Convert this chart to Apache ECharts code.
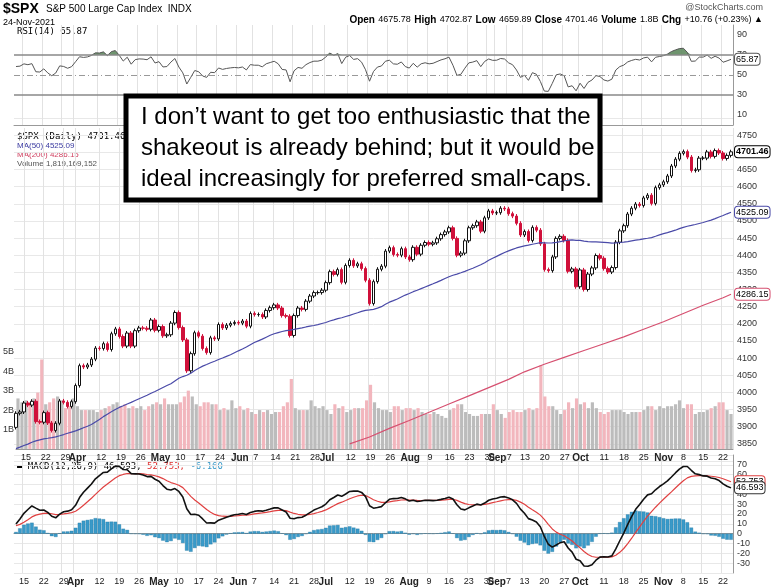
<!DOCTYPE html>
<html><head><meta charset="utf-8">
<script src="https://cdn.jsdelivr.net/npm/echarts@6/dist/echarts.min.js"></script>
<style>html,body{margin:0;padding:0;background:#fff}#c{width:779px;height:587px}</style>
</head><body><div id="c"></div>
<script>
// warm-up closes (Dec 2020 - Mar 10 2021) used only for MA50 / RSI / MACD
const warmupCloses = [3662,3669,3666,3699,3692,3702,3672,3668,3663,3647,3694,3701,3722,3709,3694,3687,3690,3703,3735,3727,3732,3756,3701,3726,3748,3803,3825,3799,3801,3809,3795,3768,3799,3851,3853,3841,3855,3849,3750,3787,3714,3774,3826,3830,3872,3887,3915,3911,3910,3917,3934,3932,3931,3913,3906,3876,3881,3925,3829,3811,3901,3870,3820,3768,3842,3821,3875,3898];
const closes = [
3939,3943,3969,3963,3974,3915,3913,3941,3911,3889,3910,3975,3971,3959,3973,
4020,4078,4074,4080,4097,4129,4128,4142,4125,4171,4185,4163,4135,4173,4135,4180,4188,4187,4184,4211,4181,
4192,4165,4168,4202,4233,4189,4153,4063,4113,4174,4164,4128,4116,4159,4156,4198,4188,4196,4201,4204,
4202,4208,4193,4230,4227,4227,4220,4239,4247,4255,4246,4224,4222,4166,4224,4246,4242,4266,4281,4291,4291,4298,
4320,4352,4344,4358,4321,4370,4385,4369,4375,4361,4327,4259,4323,4359,4368,4412,4422,4402,4400,4419,4395,
4387,4423,4403,4429,4437,4432,4436,4448,4460,4468,4480,4449,4400,4406,4442,4480,4486,4497,4470,4509,4529,4523,
4524,4537,4535,4521,4514,4493,4459,4469,4443,4481,4473,4433,4358,4355,4395,4449,4455,4443,4353,4360,4308,
4357,4300,4345,4363,4399,4391,4361,4351,4364,4438,4471,4486,4520,4537,4549,4545,4567,4575,4551,4597,4605,
4614,4631,4660,4680,4697,4702,4686,4647,4649,4683,4683,4701,4688,4705,4698,4682,4691,4701.46];
const volumes = [
2.6,2.4,2.5,2.4,2.6,2.9,4.6,2.3,2.4,2.6,2.7,2.5,2.1,2.2,2.6,
2.2,2.0,2.0,2.0,2.0,1.9,2.0,2.1,2.2,2.3,2.4,2.2,2.3,2.1,2.2,2.1,2.2,2.0,2.2,2.3,2.4,
2.3,2.6,2.3,2.3,2.3,2.4,2.7,3.0,2.7,2.3,2.2,2.4,2.4,2.3,2.3,2.0,2.1,2.0,2.5,2.1,
2.2,2.0,2.1,1.9,1.8,2.0,1.9,2.0,1.8,1.9,1.9,2.2,2.4,3.6,2.1,2.0,2.0,2.0,2.5,2.2,2.1,2.2,
2.0,1.8,2.3,2.1,2.2,1.9,2.0,2.1,2.1,2.1,2.5,3.3,2.4,2.1,2.0,2.0,1.9,2.2,2.2,2.0,2.1,
2.1,2.0,2.1,1.9,1.8,1.8,1.9,1.8,1.7,1.6,2.0,2.1,2.3,2.3,1.9,1.8,1.7,1.7,1.8,1.8,1.8,2.3,
2.0,1.8,1.6,1.9,2.0,1.9,1.9,2.0,2.1,2.0,2.1,4.3,2.7,2.2,2.2,2.0,1.8,2.0,2.4,2.1,2.6,
2.3,2.4,2.1,2.4,2.1,1.9,1.8,1.9,2.0,2.0,2.0,1.9,1.8,1.9,1.9,1.9,2.0,2.2,2.2,2.0,2.2,
2.1,2.2,2.2,2.3,2.5,2.1,2.3,2.3,1.8,1.9,1.9,2.0,2.1,2.2,2.4,2.4,2.0,1.8];
// MA(200) at weekly dates
const ma200Dates = ['2021-07-12','2021-07-19','2021-07-26','2021-08-02','2021-08-09','2021-08-16','2021-08-23','2021-08-30','2021-09-07','2021-09-13','2021-09-20','2021-09-27','2021-10-04','2021-10-11','2021-10-18','2021-10-25','2021-11-01','2021-11-08','2021-11-15','2021-11-22','2021-11-24'];
const ma200Values = [3850,3870,3895,3918,3942,3966,3990,4014,4038,4060,4082,4102,4122,4142,4162,4184,4206,4230,4254,4276,4286.15];
const holidays = ['2021-04-02','2021-05-31','2021-07-05','2021-09-06'];
const monthNames = ['Jan','Feb','Mar','Apr','May','Jun','Jul','Aug','Sep','Oct','Nov','Dec'];
const priceTicks = [3850,3900,3950,4000,4050,4100,4150,4200,4250,4300,4350,4400,4450,4500,4550,4600,4650,4700,4750];
const rsiTicks = [10,30,50,70,90];

const dates = [];
{ let d = new Date(Date.UTC(2021,2,11));
  while (dates.length < closes.length) {
    const s = d.toISOString().slice(0,10), wd = d.getUTCDay();
    if (wd !== 0 && wd !== 6 && holidays.indexOf(s) < 0) dates.push(s);
    d = new Date(d.getTime() + 86400000);
  } }
const labels = dates.map(() => '');
let lastMonthIdx = -10;
for (let i = 1; i < dates.length; i++) {
  const m = +dates[i].slice(5,7), day = +dates[i].slice(8,10);
  const prevM = +dates[i-1].slice(5,7);
  const prevDate = new Date(dates[i-1]), cur = new Date(dates[i]);
  const newWeek = cur.getUTCDay() < prevDate.getUTCDay() || (cur - prevDate) > 86400000*3.5;
  if (m !== prevM) { labels[i] = '{b|' + monthNames[m-1] + '}'; lastMonthIdx = i; }
  else if (newWeek && i - lastMonthIdx > 2) labels[i] = String(day);
}
const all = warmupCloses.concat(closes), W = warmupCloses.length;
const candles = closes.map((c,i) => { const o = all[W+i-1]; return [o, c, Math.min(o,c) - 6, Math.max(o,c) + 6]; });
const ma50 = closes.map((c,i) => { let s = 0; for (let k = W+i-49; k <= W+i; k++) s += all[k]; return +(s/50).toFixed(2); });
const rsiAll = []; { let g=0,l=0; for (let i=1;i<all.length;i++){ const ch=all[i]-all[i-1]; const up=Math.max(ch,0), dn=Math.max(-ch,0);
  if (i<=14){g+=up/14;l+=dn/14;} else {g=(g*13+up)/14;l=(l*13+dn)/14;}
  rsiAll[i]= i>=14 ? 100-100/(1+g/(l||1e-9)) : null; } }
const rsi = closes.map((c,i)=> +rsiAll[W+i].toFixed(2));
function ema(arr,n){const k=2/(n+1);const out=[];arr.forEach((v,i)=>out.push(i? v*k+out[i-1]*(1-k):v));return out;}
const e12=ema(all,12), e26=ema(all,26); const macdAll=all.map((v,i)=>e12[i]-e26[i]); const sigAll=ema(macdAll,9);
const macd = closes.map((c,i)=>+macdAll[W+i].toFixed(3)), signal = closes.map((c,i)=>+sigAll[W+i].toFixed(3));
const hist = macd.map((v,i)=>+(v-signal[i]).toFixed(3));
const ma200 = dates.map(d => { const j = ma200Dates.indexOf(d); return j>=0 ? ma200Values[j] : null; });
const volData = volumes.map((v,i)=>({value:v, itemStyle:{color: (i>0 && closes[i] < closes[i-1]) ? '#f2b6bd' : '#bcbcbc'}}));
const closeLine = closes.map(()=>null); closeLine[closeLine.length-1]=closes[closes.length-1];
const rsiHigh = rsi.map(v => v > 70 ? v : 70);

const F = 'Liberation Sans';
const labelShown = (i)=> labels[i] !== '';
function xAxis(gi, showLabel, showSplit){
  return {type:'category', gridIndex:gi, data:dates, boundaryGap:true,
    axisLine:{show:showSplit,lineStyle:{color:'#999'}}, axisTick:{show:false},
    axisLabel:{show:showLabel, interval:(i)=>labelShown(i), formatter:(v,i)=>labels[i], fontSize:9, fontFamily:F, color:'#222', margin:4,
      rich:{b:{fontWeight:'bold',fontSize:10,fontFamily:F,color:'#222'}}},
    splitLine:{show:showSplit, interval:(i)=>labelShown(i), lineStyle:{color:'#e2e2e2'}}};
}
const axisLbl = {fontSize:9, fontFamily:F, color:'#333', margin:4};
const tag = (col)=>({show:true, fontSize:9, fontFamily:F, color:'#000', backgroundColor:'#fff', borderColor:col, borderWidth:1, borderRadius:3, padding:[1,1], distance:4});
const chart = echarts.init(document.getElementById('c'));
chart.setOption({
  animation:false,
  grid:[{left:14,right:46,top:25,height:100},{left:14,right:46,top:118,height:343,show:false},{left:14,right:46,top:455,height:118},{left:14,right:46,top:128,height:321}],
  xAxis:[xAxis(0,false,true), xAxis(1,false,false), xAxis(2,true,true), xAxis(3,true,true)],
  yAxis:[
    {gridIndex:0, position:'right', min:0, max:100, interval:10, axisLabel:Object.assign({},axisLbl,{formatter:v=>rsiTicks.includes(v)?String(v):''}), splitLine:{show:false}, axisLine:{show:true,lineStyle:{color:'#999'}}},
    {gridIndex:1, position:'right', min:3800, max:4800, interval:50, axisLabel:Object.assign({},axisLbl,{formatter:v=>priceTicks.includes(v)?String(v):''}), splitLine:{show:true,lineStyle:{color:'#e8e8e8'}}, axisLine:{show:false}},
    {gridIndex:3, position:'left', min:0, max:16.5, interval:1, axisLabel:Object.assign({},axisLbl,{margin:2,formatter:v=>(v>=1&&v<=5)?v+'B':''}), splitLine:{show:false}, axisLine:{show:false}},
    {gridIndex:2, position:'right', min:-40, max:80, interval:10, axisLabel:Object.assign({},axisLbl,{formatter:v=>(v>=-30&&v<=70)?String(v):''}), splitLine:{show:true,lineStyle:{color:'#e8e8e8'}}, axisLine:{show:true,lineStyle:{color:'#999'}}}
  ],
  series:[
    {type:'line', xAxisIndex:0, yAxisIndex:0, data:rsi.map(()=>70), symbol:'none', stack:'r', lineStyle:{opacity:0}, silent:true},
    {type:'line', xAxisIndex:0, yAxisIndex:0, data:rsiHigh.map(v=>+(v-70).toFixed(2)), symbol:'none', stack:'r', lineStyle:{opacity:0}, areaStyle:{color:'#5f8a5f',opacity:0.9}, silent:true},
    {type:'line', xAxisIndex:0, yAxisIndex:0, data:rsi, symbol:'none', lineStyle:{color:'#555',width:1},
      endLabel:{...tag('#555'), formatter:()=> '65.87'},
      markLine:{silent:true, symbol:'none', label:{show:false},
        data:[{yAxis:70,lineStyle:{color:'#888',type:'solid',width:1.5}},{yAxis:30,lineStyle:{color:'#888',type:'solid',width:1.5}},{yAxis:50,lineStyle:{color:'#999',type:[6,3,1,3],width:1}}]}},
    {type:'bar', xAxisIndex:3, yAxisIndex:2, data:volData, barWidth:'80%'},
    {type:'candlestick', xAxisIndex:1, yAxisIndex:1, data:candles, barWidth:3,
      itemStyle:{color:'#ffffff', color0:'#d0103a', borderColor:'#111', borderColor0:'#d0103a', borderWidth:1}},
    {type:'line', xAxisIndex:1, yAxisIndex:1, data:ma50, symbol:'none', lineStyle:{color:'#4a4aa8',width:1.2},
      endLabel:{...tag('#4a4aa8'), formatter:()=> '4525.09'}},
    {type:'line', xAxisIndex:1, yAxisIndex:1, data:ma200, symbol:'none', connectNulls:true, lineStyle:{color:'#d65070',width:1.2},
      endLabel:{...tag('#d65070'), formatter:()=> '4286.15'}},
    {type:'line', xAxisIndex:1, yAxisIndex:1, data:closeLine, symbol:'none', lineStyle:{opacity:0},
      endLabel:{...tag('#000'), fontWeight:'bold', formatter:()=> '4701.46'}},
    {type:'bar', xAxisIndex:2, yAxisIndex:3, data:hist, barWidth:'90%', itemStyle:{color:'#3a9ac9', borderColor:'#1f6f99', borderWidth:0.3}},
    {type:'line', xAxisIndex:2, yAxisIndex:3, data:signal, symbol:'none', lineStyle:{color:'#e04040',width:1.2},
      endLabel:{...tag('#e04040'), formatter:()=> '52.753'}},
    {type:'line', xAxisIndex:2, yAxisIndex:3, data:macd, symbol:'none', lineStyle:{color:'#111',width:1.6},
      endLabel:{...tag('#333'), formatter:()=> '46.593'}}
  ],
  graphic:[
    {type:'text', left:3, top:2, style:{text:'$SPX', font:'bold 14px '+F, fill:'#000'}},
    {type:'text', left:46, top:4, style:{text:'S&P 500 Large Cap Index  INDX', font:'10px '+F, fill:'#000'}},
    {type:'text', left:3, top:18, style:{text:'24-Nov-2021', font:'9px '+F, fill:'#000'}},
    {type:'text', right:16, top:3, style:{text:'@StockCharts.com', font:'9px '+F, fill:'#555'}},
    {type:'text', right:16, top:14, style:{rich:{b:{font:'bold 10px '+F,fill:'#000'},n:{font:'9px '+F,fill:'#000'}},
      text:'{b|Open} {n|4675.78} {b|High} {n|4702.87} {b|Low} {n|4659.89} {b|Close} {n|4701.46} {b|Volume} {n|1.8B} {b|Chg} {n|+10.76 (+0.23%) ▲}'}},
    {type:'text', left:17, top:27, style:{text:'RSI(14) 65.87', font:'9px DejaVu Sans Mono', fill:'#000'}},
    {type:'text', left:17, top:132, style:{text:'$SPX (Daily) 4701.46', font:'9px DejaVu Sans Mono', fill:'#000'}},
    {type:'text', left:17, top:142, style:{text:'MA(50) 4525.09', font:'8px '+F, fill:'#3a3aa0'}},
    {type:'text', left:17, top:151, style:{text:'MA(200) 4286.15', font:'8px '+F, fill:'#d04060'}},
    {type:'text', left:17, top:160, style:{text:'Volume 1,819,169,152', font:'8px '+F, fill:'#555'}},
    {type:'text', left:17, top:462, style:{rich:{k:{font:'9px DejaVu Sans Mono',fill:'#000'},r:{font:'9px DejaVu Sans Mono',fill:'#e03030'},b:{font:'9px DejaVu Sans Mono',fill:'#3a9ac9'}},
      text:'{k|▬ MACD(12,26,9) 46.593,}{r| 52.753,}{b| -6.160}'}},
    {type:'rect', shape:{x:126,y:96,width:474,height:104}, style:{fill:'#fff', stroke:'#000', lineWidth:5}, z:100},
    {type:'text', left:141, top:102, z:101, style:{text:"I don’t want to get too enthusiastic that the\nshakeout is already behind; but it would be\nideal increasingly for preferred small-caps.", font:'24px '+F, lineHeight:31, fill:'#000'}}
  ]
});
</script></body></html>
